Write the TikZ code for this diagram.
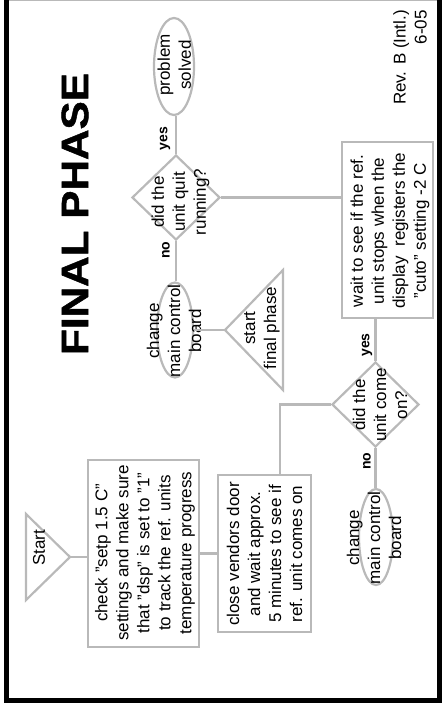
\documentclass[tikz,border=0pt]{standalone}
\usepackage{fontspec}
\usepackage{graphicx}
\setmainfont{Liberation Sans}
\newfontfamily\titlefont{Liberation Sans Bold}[FakeBold=1.2]
\usetikzlibrary{shapes.geometric,calc}
\definecolor{lc}{RGB}{185,185,185}
\begin{document}
\begin{tikzpicture}[x=1pt,y=-1pt,
  conn/.style={draw=lc, line width=2.2pt},
  shp/.style={draw=lc, line width=2.2pt, inner sep=0pt},
  txt/.style={rotate=90, align=center, font=\fontsize{17}{21}\selectfont, inner sep=0pt},
  lab/.style={rotate=90, font=\fontsize{14}{14}\selectfont\bfseries, inner sep=0pt}]
\useasboundingbox (0,0) rectangle (442,704);
% frame
\draw[lc, line width=1pt] (6,0.5) -- (440,0.5);
\draw[black, line width=5.5pt] (6.5,0) -- (6.5,700.5) -- (439.5,700.5) -- (439.5,0);
% title
\node[rotate=90, inner sep=0pt] (title) at (75,214) {\resizebox{282pt}{26.5pt}{\titlefont\fontsize{36}{36}\selectfont FINAL PHASE}};
% revision
\node[txt, align=right, anchor=east] (rev) at (410,10) {Rev. B (Intl.)\\6-05};
% problem solved
\node[shp, ellipse, minimum width=40pt, minimum height=97pt] (ps) at (174,66.5) {};
\node[txt] (pst) at (174.3,65) {problem\\solved};
% diamond 1
\node[shp, diamond, minimum width=88pt, minimum height=85pt] (d1) at (176,197.5) {};
\node[txt] (d1t) at (180.5,202) {did the\\unit quit\\running?};
% ellipse 1
\node[shp, ellipse, minimum width=36pt, minimum height=95pt] (e1) at (175,330) {};
\node[txt] (e1t) at (174,331) {change\\main control\\board};
% triangle start final phase
\coordinate (t2a) at (225,330);
\coordinate (t2b) at (283,270);
\coordinate (t2c) at (283,390);
\draw[shp] (t2a) -- (t2b) -- (t2c) -- cycle;
\node[txt] (t2t) at (262,328) {start\\final phase};
% wait box
\node[shp, rectangle, minimum width=91pt, minimum height=176pt] (bw) at (387.5,230) {};
\node[txt] (bwt) at (390,231) {wait to see if the ref.\\unit stops when the\\display\ \ registers the\\"cuto" setting -2 C};
% diamond 2
\node[shp, diamond, minimum width=87pt, minimum height=85pt] (d2) at (375.5,404.5) {};
\node[txt] (d2t) at (380,405) {did the\\unit come\\on?};
% ellipse 2
\node[shp, ellipse, minimum width=34pt, minimum height=96pt] (e2) at (376,537) {};
\node[txt] (e2t) at (374,538) {change\\main control\\board};
% box 2
\node[shp, rectangle, minimum width=93pt, minimum height=157pt] (b2) at (264.5,553.5) {};
\node[txt] (b2t) at (264.5,554) {close vendors door\\and wait approx.\\5 minutes to see if\\ref. unit comes on};
% box 1
\node[shp, rectangle, minimum width=111pt, minimum height=187pt] (b1) at (143.5,553.5) {};
\node[txt] (b1t) at (145,553) {check "setp 1.5 C"\\settings and make sure\\that "dsp" is set to "1"\\to track the ref. units\\temperature progress};
% start triangle
\coordinate (t1a) at (70,557);
\coordinate (t1b) at (26,514);
\coordinate (t1c) at (26,600);
\draw[shp] (t1a) -- (t1b) -- (t1c) -- cycle;
\node[txt] (t1t) at (39,548) {Start};
% labels
\node[lab] (yes1) at (165,138.5) {yes};
\node[lab] (no1) at (166,250) {no};
\node[lab] (yes2) at (367,345) {yes};
\node[lab] (no2) at (367,461) {no};
% connectors
\draw[conn] (d1.north) -- (d1.north |- ps.south);
\draw[conn] (d1.south) -- (d1.south |- e1.north);
\draw[conn] (e1.east) -- (t2a);
\draw[conn] (d1.east) -- (d1.east -| bw.west);
\draw[conn] (d2.north) -- (d2.north |- bw.south);
\draw[conn] (d2.south) -- (d2.south |- e2.north);
\draw[conn] (d2.west) -| ([xshift=15.5pt]b2.north);
\draw[conn] (t1a) -- (t1a -| b1.west);
\draw[conn] (b1.east) -- (b2.west);
\end{tikzpicture}
\end{document}
